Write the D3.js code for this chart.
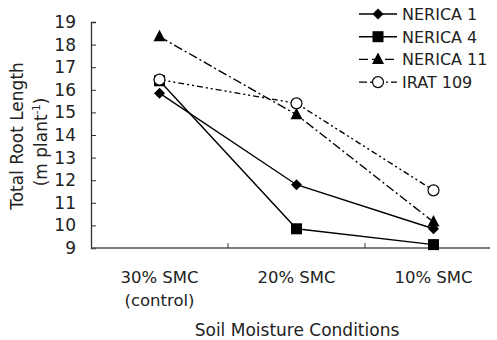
<!DOCTYPE html>
<html>
<head>
<meta charset="utf-8">
<script src="https://cdn.jsdelivr.net/npm/d3@7"></script>
<style>
  body { margin: 0; background: #fff; }
  text { font-family: "DejaVu Sans", sans-serif; fill: #222; }
</style>
</head>
<body>
<svg id="chart" width="497" height="340"></svg>
<script>
// categories and series
const conditions = ["30% SMC\n(control)", "20% SMC", "10% SMC"];
const nerica1 = [15.85, 11.8, 9.85];
const nerica4 = [16.4, 9.85, 9.15];
const nerica11 = [18.35, 14.9, 10.15];
const irat109 = [16.45, 15.4, 11.55];
const yTicks = [9, 10, 11, 12, 13, 14, 15, 16, 17, 18, 19];

const series = [
  { name: "NERICA 1", values: nerica1, marker: "diamond", dash: null, legendDash: null },
  { name: "NERICA 4", values: nerica4, marker: "square", dash: null, legendDash: null },
  { name: "NERICA 11", values: nerica11, marker: "triangle", dash: "9,3,2,3", legendDash: "9,4" },
  { name: "IRAT 109", values: irat109, marker: "circle", dash: "6,3,2,3,2,3", legendDash: "8,3,2,3" }
];

const svg = d3.select("#chart");

let x = d3.scaleBand().domain(conditions).range([91, 502]);
let y = d3.scaleLinear().domain([9, 19]).range([248, 22]);

// y axis
let yAxis = d3.axisLeft(y).tickValues(yTicks).tickSize(-5).tickPadding(15);
let gy = svg.append("g").attr("transform", "translate(91,0)").call(yAxis);
gy.select(".domain").attr("stroke", "#333").attr("stroke-width", 1.3);
gy.selectAll(".tick line").attr("stroke", "#333");
gy.selectAll(".tick text")
  .attr("font-size", 17)
  .attr("font-family", "DejaVu Sans")
  .attr("fill", "#222");

// x axis, ticks sit between categories
let xg = svg.append("g").attr("transform", "translate(0,248)");
xg.append("line")
  .attr("x1", 91).attr("x2", 490)
  .attr("stroke", "#555").attr("stroke-width", 1.5);
xg.selectAll(".xtick")
  .data(conditions.slice(1))
  .enter()
  .append("line")
  .attr("x1", d => x(d)).attr("x2", d => x(d))
  .attr("y1", 0).attr("y2", -5)
  .attr("stroke", "#333");
xg.selectAll(".xlab")
  .data(conditions)
  .enter()
  .append("text")
  .attr("text-anchor", "middle")
  .attr("font-size", 16.5)
  .each(function(d) {
    let t = d3.select(this);
    d.split("\n").forEach((s, i) => {
      t.append("tspan")
        .attr("x", x(d) + x.bandwidth() / 2)
        .attr("y", 35 + i * 23)
        .text(s);
    });
  });

// axis titles
svg.append("text")
  .attr("text-anchor", "middle")
  .attr("x", 297).attr("y", 336)
  .attr("font-size", 17)
  .text("Soil Moisture Conditions");

svg.append("text")
  .attr("text-anchor", "middle")
  .attr("transform", "translate(23,136) rotate(-90)")
  .attr("font-size", 17)
  .text("Total Root Length");

let sub = svg.append("text")
  .attr("text-anchor", "middle")
  .attr("transform", "translate(47,142) rotate(-90)")
  .attr("font-size", 17);
sub.append("tspan").text("(m plant");
sub.append("tspan").attr("font-size", 10).attr("dy", -7).text("-1");
sub.append("tspan").attr("dy", 7).text(")");

// markers
function drawMarker(g, type, cx, cy) {
  if (type === "diamond") {
    g.append("path")
      .attr("d", d3.symbol().type(d3.symbolSquare).size(60)())
      .attr("transform", `translate(${cx},${cy}) rotate(45)`)
      .attr("fill", "#000");
  } else if (type === "square") {
    g.append("rect")
      .attr("x", cx - 5.5).attr("y", cy - 5.5)
      .attr("width", 11).attr("height", 11)
      .attr("fill", "#000");
  } else if (type === "triangle") {
    g.append("path")
      .attr("d", `M${cx},${cy - 7}L${cx + 6},${cy + 4.5}L${cx - 6},${cy + 4.5}Z`)
      .attr("fill", "#000");
  } else {
    g.append("circle")
      .attr("cx", cx).attr("cy", cy).attr("r", 5.5)
      .attr("fill", "#fff").attr("stroke", "#000").attr("stroke-width", 1.2);
  }
}

let line = d3.line()
  .x((d, i) => x(conditions[i]) + x.bandwidth() / 2)
  .y(d => y(d));

let plot = svg.append("g");
series.forEach(s => {
  plot.append("path")
    .datum(s.values)
    .attr("d", line)
    .attr("fill", "none")
    .attr("stroke", "#000")
    .attr("stroke-width", 1.4)
    .attr("stroke-dasharray", s.dash);
});
series.forEach(s => {
  s.values.forEach((v, i) => {
    drawMarker(plot, s.marker, x(conditions[i]) + x.bandwidth() / 2, y(v));
  });
});

// legend
let legend = svg.append("g");
series.forEach((s, i) => {
  let ly = 14 + i * 22.7;
  legend.append("line")
    .attr("x1", 359).attr("x2", 397)
    .attr("y1", ly).attr("y2", ly)
    .attr("stroke", "#000").attr("stroke-width", 1.4)
    .attr("stroke-dasharray", s.legendDash);
  drawMarker(legend, s.marker, 378, ly);
  legend.append("text")
    .attr("x", 402).attr("y", ly + 6)
    .attr("font-size", 16)
    .text(s.name);
});
</script>
</body>
</html>
